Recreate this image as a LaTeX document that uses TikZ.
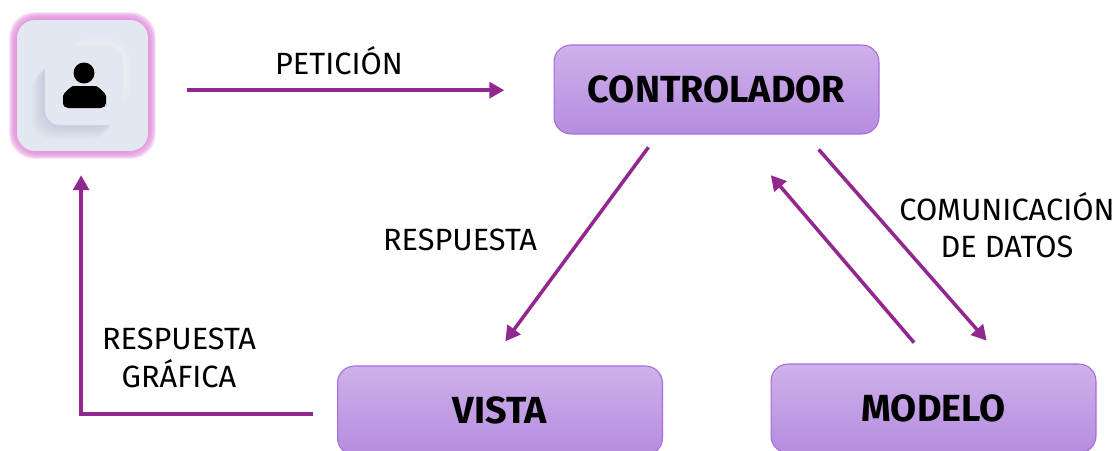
\documentclass[tikz,border=0pt]{standalone}
\usepackage{fontspec}
\setmainfont{Fira Sans}
\usetikzlibrary{arrows.meta}
\usepackage{xcolor}
\definecolor{flechacol}{HTML}{92278F}
\definecolor{cajatop}{HTML}{CEB1EA}
\definecolor{cajabot}{HTML}{B68CE0}
\definecolor{cajaborde}{HTML}{A96BD8}
\definecolor{tarjeta}{HTML}{E3E7F0}
\definecolor{brillo}{HTML}{E08FDC}
\definecolor{sombra}{HTML}{9FA6BF}
\tikzset{
	caja/.style={draw=cajaborde, line width=0.6pt, rounded corners=0.34cm, top color=cajatop, bottom color=cajabot,
		minimum width=6.5cm, minimum height=1.78cm, inner sep=0pt, font=\fontsize{21.5}{21.5}\selectfont\bfseries},
	flecha/.style={draw=flechacol, line width=2pt, -{Triangle[length=8.5pt, width=9pt]}},
	etiqueta/.style={align=center, font=\fontsize{17.5}{21.3}\selectfont, inner sep=0pt}
}

\begin{document}
\begin{tikzpicture}[x=0.02cm, y=-0.02cm]
	\clip (0, 0) rectangle (1118, 450);
	% tarjeta del usuario
	\foreach \g in {1,...,7}
		\fill[brillo, opacity=0.3, rounded corners=0.5cm] (17-1.1*\g, 20-1.1*\g) rectangle (148+1.1*\g, 151+1.1*\g);
	\node (usuario) [fill=tarjeta, rounded corners=0.36cm, minimum size=2.62cm, inner sep=0pt] at (82.5, 85.5) {};
	\foreach \g in {1,...,14}
		\fill[sombra, opacity=0.024, rounded corners=0.4cm] (45-\g, 56+\g) rectangle (118-0.5*\g, 125+\g);
	\foreach \g in {1,...,8}
		\fill[white, opacity=0.05, rounded corners=0.4cm] (62+\g, 46-\g) rectangle (123+\g, 108);
	\fill[tarjeta, rounded corners=0.3cm] (45, 46) rectangle (123, 125);
	\fill[black] (84, 73) circle [radius=10.5];
	\fill[black, rounded corners=0.1cm] (63, 108) -- (63, 101) .. controls (63, 93) and (72, 86) .. (78, 86) -- (91, 86)
		.. controls (97, 86) and (106, 93) .. (106, 101) -- (106, 108) -- cycle;
	% cajas
	\node (controlador) [caja] at (716.5, 89.5) {CONTROLADOR};
	\node (vista) [caja] at (500, 410.5) {VISTA};
	\node (modelo) [caja] at (933.5, 408.5) {MODELO};
	% textos
	\node (peticion) [etiqueta] at (339, 61) {PETICIÓN};
	\node (respuesta) [etiqueta] at (460, 240) {RESPUESTA};
	\node (comunicacion) [etiqueta] at (1007, 225) {COMUNICACIÓN\\DE DATOS};
	\node (grafica) [etiqueta] at (179, 358) {RESPUESTA\\GRÁFICA};
	% conectores
	\draw[flecha, shorten <=22pt, shorten >=28pt] ([yshift=-0.4pt]usuario.east |- controlador.west) -- ([yshift=-0.4pt]controlador.west);
	\draw[flecha, shorten <=9pt, shorten >=17pt] ([xshift=-33.4pt]controlador.south) -- ([xshift=-7.1pt]vista.north);
	\draw[flecha, shorten <=11.3pt, shorten >=17.3pt] ([xshift=50.7pt]controlador.south) -- ([xshift=41.7pt]modelo.north);
	\draw[flecha, shorten <=15.6pt, shorten >=30.5pt] ([xshift=-0.9pt]modelo.north) -- ([xshift=11.1pt]controlador.south);
	\draw[flecha, shorten <=13.6pt, shorten >=13.6pt] ([yshift=-2pt]vista.west) -| ([xshift=-0.8pt]usuario.south);
\end{tikzpicture}
\end{document}
